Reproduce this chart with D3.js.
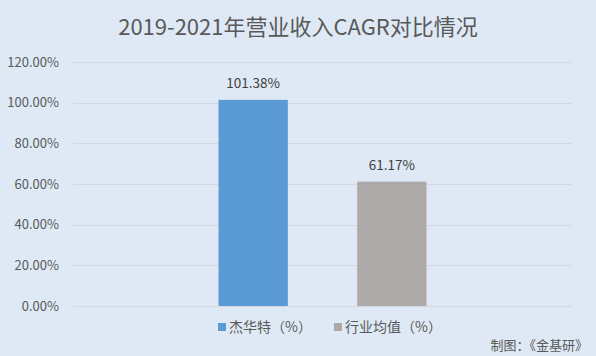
<!DOCTYPE html>
<html><head><meta charset="utf-8">
<script src="https://cdn.jsdelivr.net/npm/d3@7"></script>
<style>body{margin:0;background:#dee9f5;}svg{display:block;}</style>
</head><body>
<svg id="c" width="596" height="356"></svg>
<script>
const title = "2019-2021年营业收入CAGR对比情况";
const categories = [""];
const seriesNames = ["杰华特（%）", "行业均值（%）"];
const seriesValues = [101.38, 61.17];
const seriesColors = ["#5b9bd5", "#aeaaaa"];
const yTicks = [0, 20, 40, 60, 80, 100, 120];
const source = "制图：《金基研》";

const svg = d3.select("#c");
const W = 596, H = 356;
const font = "'Noto Sans CJK SC', 'Open Sans', sans-serif";
svg.append("rect").attr("width", W).attr("height", H).attr("fill", "#dee9f5");

const y = d3.scaleLinear().domain([0, 120]).range([306, 62]);
const x0 = d3.scaleBand().domain(categories).range([73, 572]).paddingInner(0).paddingOuter(0);
const x1 = d3.scaleBand().domain(seriesNames).range([x0.bandwidth()/2 - 104, x0.bandwidth()/2 + 104]).paddingInner(0.5).paddingOuter(0);

svg.append("text").attr("x", 298).attr("y", 35).attr("text-anchor", "middle")
  .attr("font-family", font).attr("font-size", 22).attr("fill", "#595959").text(title);

const yAxis = d3.axisLeft(y).tickValues(yTicks).tickFormat(d => d.toFixed(2) + "%").tickSize(0).tickPadding(14);
const ga = svg.append("g").attr("transform", "translate(73,0)").call(yAxis);
ga.select(".domain").remove();
ga.selectAll("text").attr("font-family", font).attr("font-size", 13).attr("fill", "#595959");

svg.append("g").selectAll("line").data(yTicks).join("line")
  .attr("x1", 73).attr("x2", 572).attr("y1", d => Math.round(y(d)) + 0.5).attr("y2", d => Math.round(y(d)) + 0.5)
  .attr("stroke", "#d4d8dc").attr("stroke-width", 1);

const data = seriesNames.map((s, i) => ({s, v: seriesValues[i], c: seriesColors[i]}));
const g = svg.append("g").attr("transform", `translate(${x0(categories[0])},0)`);
g.selectAll("rect").data(data).join("rect")
  .attr("x", d => x1(d.s)).attr("width", x1.bandwidth())
  .attr("y", d => y(d.v)).attr("height", d => y(0) - y(d.v)).attr("fill", d => d.c);
g.selectAll("text").data(data).join("text")
  .attr("x", d => x1(d.s) + x1.bandwidth()/2).attr("y", d => y(d.v) - 12)
  .attr("text-anchor", "middle").attr("font-family", font).attr("font-size", 13.5).attr("fill", "#404040")
  .text(d => d.v.toFixed(2) + "%");

const legendX = [218, 334];
const lg = svg.append("g");
data.forEach((d, i) => {
  lg.append("rect").attr("x", legendX[i]).attr("y", 323).attr("width", 8).attr("height", 8).attr("fill", d.c);
  lg.append("text").attr("x", legendX[i] + 11).attr("y", 332).attr("font-family", font).attr("font-size", 14)
    .attr("fill", "#595959").text(d.s);
});

svg.append("text").attr("x", 588).attr("y", 350).attr("text-anchor", "end")
  .attr("font-family", font).attr("font-size", 13).attr("fill", "#595959").text(source);
</script>
</body></html>
